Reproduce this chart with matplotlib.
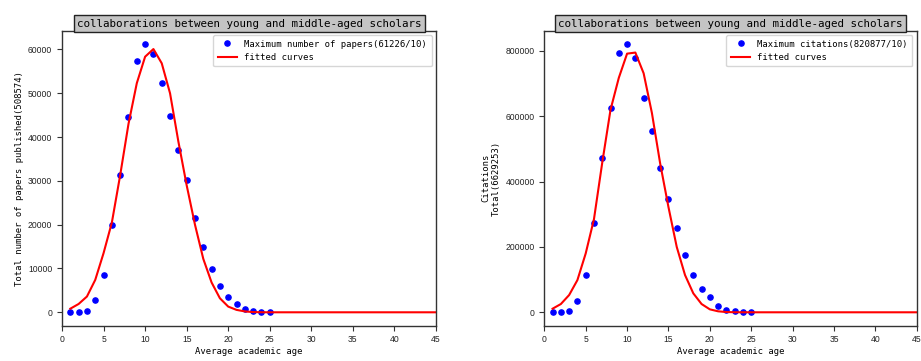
import numpy as np
import matplotlib
matplotlib.use("Agg")
import matplotlib.pyplot as plt

# average academic age of the collaborating pair
age = np.arange(1, 26)
age_fit = np.arange(1, 46)

papers = [0, 0, 400, 2700, 8400, 20000, 31300, 44600, 57400, 61226,
          58900, 52400, 44700, 37000, 30300, 21600, 14800, 9900, 6100, 3600,
          2000, 800, 200, 50, 0]
papers_fit = [820, 1900, 3600, 7400, 13500, 20500, 31300, 43000, 52300, 58350,
              60100, 56850, 50000, 39000, 29000, 20000, 12200, 6800, 3200, 1300,
              550, 200, 50, 10] + [0] * 21

citations = [0, 0, 4000, 35500, 114800, 273600, 471000, 626000, 793900, 820877,
             777400, 655300, 553600, 442000, 348000, 259500, 174000, 114800, 71100, 45800,
             20200, 8000, 3000, 500, 0]
citations_fit = [11000, 25300, 52800, 98600, 180000, 285000, 458000, 620000, 717500, 791700,
                 795000, 731600, 610000, 455000, 322000, 200000, 114000, 58000, 25300, 9000,
                 3000, 800, 200, 50] + [0] * 21

title = "collaborations between young and middle-aged scholars"
mono = "DejaVu Sans Mono"
plt.rcParams["font.family"] = "Liberation Sans"

fig = plt.figure(figsize=(9.21, 3.61), dpi=100)
ax1 = fig.add_axes([62/921, 35.3/361, 374/921, 295/361])
ax2 = fig.add_axes([544.3/921, 35.3/361, 372.5/921, 295/361])

panels = [
    (ax1, papers, papers_fit, "Maximum number of papers(61226/10)",
     "Total number of papers published(508574)"),
    (ax2, citations, citations_fit, "Maximum citations(820877/10)",
     "Citations\nTotal(6629253)"),
]

for ax, pts, fit, lab, ylab in panels:
    ax.plot(age, pts, "b.", markersize=7.5, label=lab)
    ax.plot(age_fit, fit, "r-", linewidth=1.5, label="fitted curves")
    ax.set_xlim(0, 45)
    ax.set_xticks(np.arange(0, 46, 5))
    ax.tick_params(labelsize=6.2, length=3.5, width=0.8, colors="#333333", labelcolor="#222222")
    for s in ax.spines.values():
        s.set_color("#333333")
        s.set_linewidth(1.0)
    ax.set_xlabel("Average academic age", fontfamily=mono, fontsize=6.4, labelpad=1.5)
    ax.set_ylabel(ylab, fontfamily=mono, fontsize=6.4, labelpad=3)
    ax.set_title(title, fontfamily=mono, fontsize=7.8, pad=3,
                 bbox=dict(boxstyle="square,pad=0.3", facecolor="#c4c4c4",
                           edgecolor="#222222", linewidth=1.0))
    ax.legend(loc="upper right", numpoints=1, prop={"family": mono, "size": 6.4},
              handlelength=2.2, borderpad=0.5, labelspacing=0.5)

fig.savefig("out.png", dpi=100)
